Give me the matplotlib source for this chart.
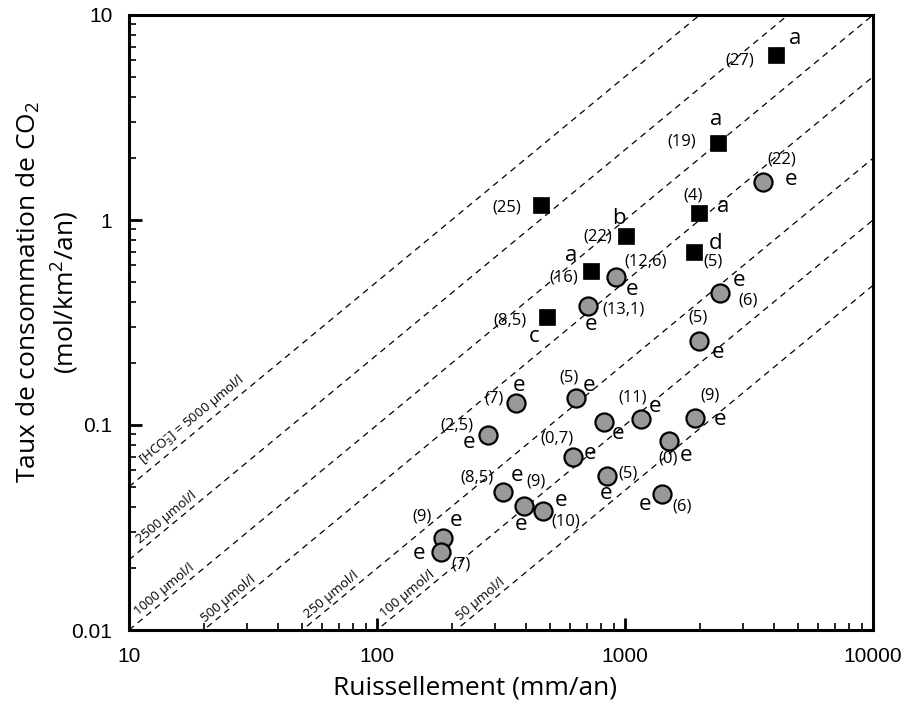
import matplotlib
matplotlib.use("Agg")
import matplotlib.pyplot as plt
import numpy as np

plt.rcParams["mathtext.fontset"] = "custom"
plt.rcParams["mathtext.rm"] = "Open Sans"
plt.rcParams["mathtext.it"] = "Open Sans"

# --- data ---
# squares (filled black)
sq_runoff = [4053, 2364, 1982, 457, 1006, 1897, 727, 486]
sq_rate = [6.38, 2.37, 1.085, 1.18, 0.838, 0.70, 0.566, 0.335]
sq_count = ["(27)", "(19)", "(4)", "(25)", "(22)", "(5)", "(16)", "(8,5)"]
sq_letter = ["a", "a", "a", "", "b", "d", "a", "c"]

# circles (grey)
ci_runoff = [3612, 920, 711, 2416, 1982, 362, 633, 279, 823, 1157,
             1916, 1509, 615, 848, 1406, 321, 393, 468, 185, 182]
ci_rate = [1.54, 0.529, 0.382, 0.439, 0.257, 0.128, 0.136, 0.0894, 0.1038, 0.1066,
           0.1085, 0.0838, 0.070, 0.0564, 0.0461, 0.0473, 0.0404, 0.0382, 0.0282, 0.0241]
ci_count = ["(22)", "(12,6)", "(13,1)", "(6)", "(5)", "(7)", "(5)", "(2,5)", "", "(11)",
            "(9)", "(0)", "(0,7)", "(5)", "(6)", "(8,5)", "(9)", "(10)", "(9)", "(7)"]
ci_letter = ["e"] * 20

# iso-concentration lines: label and level as drawn in the figure (umol/l)
iso_label = ["[HCO$_\\mathregular{3}^{\\mathregular{-}}$] = 5000 µmol/l", "2500 µmol/l",
             "1000 µmol/l", "500 µmol/l", "250 µmol/l", "100 µmol/l", "50 µmol/l"]
iso_level = [5000, 2200, 1000, 500, 200, 100, 48]
iso_label_x = [11.8, 11.3, 11.1, 20.6, 53.6, 109, 220]

# --- label offsets in pixels (count, letter) ---
sq_count_off = [(-36, -5), (-36, 2), (-6, 17), (-34, -2), (-28, -1), (19, -10), (-27, -7), (-37, -3)]
sq_letter_off = [(19, 17), (-1, 24), (25, 6), (0, 0), (-7, 17), (22, 8), (-19, 15), (-13, -19)]
ci_count_off = [(18, 22), (30, 15), (35, -4), (28, -7), (-1, 23), (-22, 5), (-7, 20), (-31, 9),
                (0, 0), (-8, 22), (15, 22), (-1, -18), (-16, 18), (21, 2), (20, -13), (-26, 14),
                (12, 24), (23, -11), (-21, 21), (20, -13)]
ci_letter_off = [(28, 2), (16, -13), (3, -19), (19, 13), (19, -12), (3, 18), (13, 12), (-19, -8),
                 (14, -12), (14, 13), (25, -2), (17, -15), (17, 3), (-1, -18), (-17, -11), (14, 16),
                 (-3, -19), (18, 10), (13, 17), (-22, -2)]

fig = plt.figure(figsize=(9.06, 7.04), dpi=100)
ax = fig.add_axes([129 / 906, 74 / 704, 744 / 906, 615 / 704])
ax.set_xscale("log")
ax.set_yscale("log")
ax.set_xlim(10, 10000)
ax.set_ylim(0.01, 10)

# dashed iso lines
xx = np.array([10.0, 10000.0])
slope = np.degrees(np.arctan(615 / 3 / (744 / 3)))
for lab, lev, lx in zip(iso_label, iso_level, iso_label_x):
    ax.plot(xx, lev * 1e-6 * xx, color="black", lw=0.9, ls=(0, (5, 4)), zorder=1)
    ax.text(lx, lev * 1e-6 * lx * 1.03, lab, rotation=slope, rotation_mode="anchor",
            ha="left", va="bottom", fontsize=9.5, family="Open Sans", zorder=2)

ax.plot(sq_runoff, sq_rate, ls="none", marker="s", ms=12, mfc="black", mec="black",
        mew=0.5, zorder=3)
ax.plot(ci_runoff, ci_rate, ls="none", marker="o", ms=13, mfc="#999999", mec="black",
        mew=1.6, zorder=3)

def label(x, y, s, off, size):
    if s:
        ax.annotate(s, (x, y), xytext=off, textcoords="offset pixels", ha="center",
                    va="center", fontsize=size, family="Open Sans", zorder=4)

for i in range(len(sq_runoff)):
    label(sq_runoff[i], sq_rate[i], sq_count[i], sq_count_off[i], 12)
    label(sq_runoff[i], sq_rate[i], sq_letter[i], sq_letter_off[i], 16)
for i in range(len(ci_runoff)):
    label(ci_runoff[i], ci_rate[i], ci_count[i], ci_count_off[i], 12)
    label(ci_runoff[i], ci_rate[i], ci_letter[i], ci_letter_off[i], 16)

# axes styling
for sp in ax.spines.values():
    sp.set_linewidth(2.2)
ax.tick_params(which="major", direction="in", length=9, width=2, pad=12,
               labelsize=15, top=False, right=False)
ax.tick_params(which="minor", direction="in", length=5, width=1.2, top=False, right=False)
ax.set_xticks([10, 100, 1000, 10000], ["10", "100", "1000", "10000"])
ax.set_yticks([0.01, 0.1, 1, 10], ["0.01", "0.1", "1", "10"])
for t in ax.get_xticklabels() + ax.get_yticklabels():
    t.set_family("Liberation Sans")

fig.text(475 / 906, 1 - 688 / 704, "Ruissellement (mm/an)", ha="center", va="center",
         fontsize=19, family="Open Sans")
fig.text(48 / 906, 1 - 292 / 704, "Taux de consommation de CO$_\\mathregular{2}$\n(mol/km$^\\mathregular{2}$/an)",
         ha="center", va="center", rotation=90, multialignment="center",
         fontsize=19, family="Open Sans", linespacing=1.3)

fig.savefig("out.png", dpi=100)
